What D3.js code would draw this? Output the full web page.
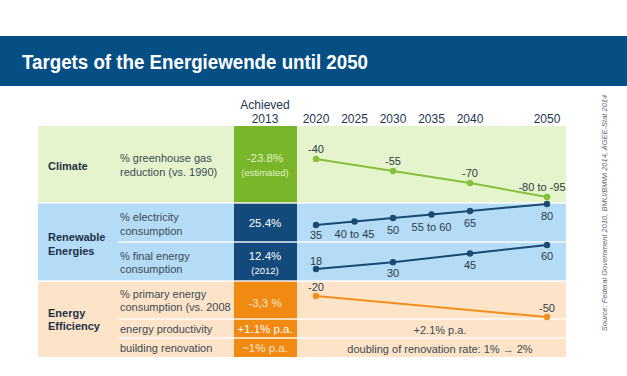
<!DOCTYPE html>
<html>
<head>
<meta charset="utf-8">
<script src="https://cdn.jsdelivr.net/npm/d3@7"></script>
<style>
  body { margin: 0; background: #fff; }
  svg { display: block; font-family: "Liberation Sans", Arial, sans-serif; }
</style>
</head>
<body>
<svg width="627" height="376"></svg>
<script>
/* Data */
const title = 'Targets of the Energiewende until 2050';
const headerYears = [2020, 2025, 2030, 2035, 2040, 2050];

const climateYears = [2020, 2030, 2040, 2050];
const climateValues = [-40, -55, -70, -87.5];
const climateLabels = ['-40', '-55', '-70', '-80 to -95'];

const electricityYears = [2020, 2025, 2030, 2035, 2040, 2050];
const electricityValues = [35, 42.5, 50, 57.5, 65, 80];
const electricityLabels = ['35', '40 to 45', '50', '55 to 60', '65', '80'];

const finalEnergyYears = [2020, 2030, 2040, 2050];
const finalEnergyValues = [18, 30, 45, 60];
const finalEnergyLabels = ['18', '30', '45', '60'];

const primaryYears = [2020, 2050];
const primaryValues = [-20, -50];
const primaryLabels = ['-20', '-50'];

const achieved = ['-23.8%', '25.4%', '12.4%', '-3,3 %', '+1.1% p.a.', '~1% p.a.'];
const achievedNotes = ['(estimated)', '', '(2012)', '', '', ''];
const productivityTarget = '+2.1% p.a.';
const renovationTarget = 'doubling of renovation rate: 1% \u2192 2%';
const source = 'Source: Federal Government 2010, BMU/BMWi 2014, AGEE-Stat 2014';

const svg = d3.select('svg');

// title bar
svg.append('rect').attr('x', 0).attr('y', 36).attr('width', 627).attr('height', 50).attr('fill', '#064f85');
svg.append('text').attr('x', 22).attr('y', 69).attr('fill', '#fff')
    .attr('font-size', 20).attr('font-weight', 'bold')
    .attr('textLength', 346).attr('lengthAdjust', 'spacingAndGlyphs')
    .text(title);

const x = d3.scaleLinear().domain([2020, 2050]).range([316, 547]);

// bands
const bands = [
    { y0: 126, y1: 203, fill: '#e5f4cc', cell: '#79b62a', line: '#86c03a' },
    { y0: 203, y1: 281, fill: '#b4dcf6', cell: '#134a7b', line: '#1a4a73' },
    { y0: 281, y1: 357, fill: '#fde4c8', cell: '#f08a12', line: '#ef8f1c' }
];
bands.forEach(b => {
    svg.append('rect').attr('x', 38).attr('y', b.y0).attr('width', 528).attr('height', b.y1 - b.y0).attr('fill', b.fill);
    svg.append('rect').attr('x', 234).attr('y', b.y0).attr('width', 63).attr('height', b.y1 - b.y0).attr('fill', b.cell);
});

// row separators
[[38, 203], [38, 281], [118, 242], [118, 319], [118, 338]].forEach(([x0, y]) => {
    svg.append('line').attr('x1', x0).attr('x2', 566).attr('y1', y).attr('y2', y)
        .attr('stroke', '#fff').attr('stroke-width', 1.5).attr('opacity', 0.9);
});

// header
svg.append('text').attr('x', 265).attr('y', 109).attr('text-anchor', 'middle')
    .attr('font-size', 12).attr('fill', '#1c3550').text('Achieved');
svg.append('text').attr('x', 265).attr('y', 123).attr('text-anchor', 'middle')
    .attr('font-size', 12).attr('fill', '#1c3550').text('2013');
svg.selectAll('text.year')
    .data(headerYears)
    .join('text')
    .attr('class', 'year')
    .attr('x', d => x(d))
    .attr('y', 123)
    .attr('text-anchor', 'middle')
    .attr('font-size', 12)
    .attr('fill', '#1c3550')
    .text(d => d);

// row labels
function lines(arr, x0, ys, opts) {
    arr.forEach((t, i) => {
        svg.append('text').attr('x', x0).attr('y', ys[i])
            .attr('font-size', opts.size).attr('font-weight', opts.weight || 'normal')
            .attr('fill', opts.fill).attr('text-anchor', opts.anchor || 'start')
            .attr('dominant-baseline', 'central').text(t);
    });
}
const bandStyle = { size: 11, weight: 'bold', fill: '#1d3045' };
const subStyle = { size: 11, fill: '#3a4a55' };
lines(['Climate'], 48, [166], bandStyle);
lines(['Renewable', 'Energies'], 48, [237, 251], bandStyle);
lines(['Energy', 'Efficiency'], 48, [313, 326], bandStyle);

lines(['% greenhouse gas', 'reduction (vs. 1990)'], 120, [158, 172], subStyle);
lines(['% electricity', 'consumption'], 120, [217, 231], subStyle);
lines(['% final energy', 'consumption'], 120, [256, 269], subStyle);
lines(['% primary energy', 'consumption (vs. 2008'], 120, [294, 307], subStyle);
lines(['energy productivity'], 120, [329], subStyle);
lines(['building renovation'], 120, [348], subStyle);

// achieved values
const achievedY = [158, 223, 256, 303, 329, 348];
const achievedColor = ['#e4f3c6', '#fff', '#fff', '#fde6cc', '#fff', '#fde6cc'];
achieved.forEach((t, i) => {
    lines([t], 265, [achievedY[i]], { size: 11.5, fill: achievedColor[i], anchor: 'middle' });
    if (achievedNotes[i]) lines([achievedNotes[i]], 265, [achievedY[i] + 14], { size: 9.5, fill: achievedColor[i], anchor: 'middle' });
});

// target lines
function series(years, values, labels, yRange, color, dyFn) {
    const y = d3.scaleLinear().domain(d3.extent(values)).range(yRange);
    if (values[0] > values[values.length - 1]) y.domain(d3.extent(values).reverse());
    const pts = years.map((yr, i) => ({ yr, v: values[i], label: labels[i], i }));
    const g = svg.append('g');
    g.append('path')
        .datum(pts)
        .attr('fill', 'none')
        .attr('stroke', color)
        .attr('stroke-width', 2)
        .attr('d', d3.line().x(d => x(d.yr)).y(d => y(d.v)));
    g.selectAll('circle')
        .data(pts)
        .join('circle')
        .attr('cx', d => x(d.yr))
        .attr('cy', d => y(d.v))
        .attr('r', 3.2)
        .attr('fill', color);
    g.selectAll('text')
        .data(pts)
        .join('text')
        .attr('x', d => x(d.yr) - (d.i === pts.length - 1 && d.label.length > 4 ? 5 : 0))
        .attr('y', d => y(d.v) + dyFn(d))
        .attr('text-anchor', 'middle')
        .attr('dominant-baseline', 'central')
        .attr('font-size', 11)
        .attr('fill', '#2d3a45')
        .text(d => d.label);
}
series(climateYears, climateValues, climateLabels, [159, 197], bands[0].line, () => -10);
series(electricityYears, electricityValues, electricityLabels, [225, 204], bands[1].line, d => d.i === 0 ? 10 : 12);
series(finalEnergyYears, finalEnergyValues, finalEnergyLabels, [269, 245], bands[1].line, d => d.i === 0 ? -8 : 11);
series(primaryYears, primaryValues, primaryLabels, [296, 317], bands[2].line, () => -9);

lines([productivityTarget], 440, [330], { size: 11, fill: '#3a4a55', anchor: 'middle' });
lines([renovationTarget], 440, [349], { size: 11, fill: '#3a4a55', anchor: 'middle' });

// source
svg.append('text')
    .attr('transform', 'translate(607,213) rotate(-90)')
    .attr('text-anchor', 'middle')
    .attr('font-size', 7.5)
    .attr('font-style', 'italic')
    .attr('fill', '#666')
    .text(source);
</script>
</body>
</html>
